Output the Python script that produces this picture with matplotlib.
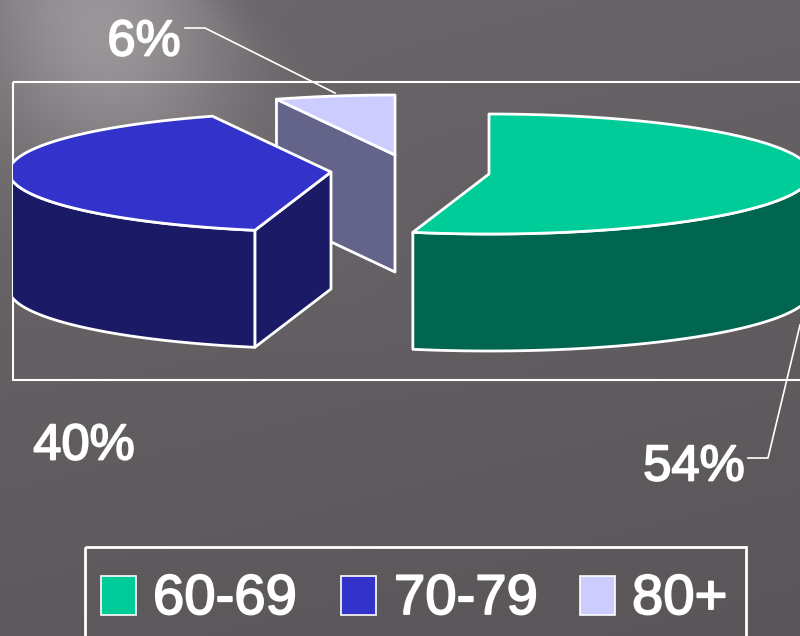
import matplotlib
matplotlib.use("Agg")
import matplotlib.pyplot as plt
import matplotlib.patheffects as pe
import numpy as np
from matplotlib.patches import Polygon, Rectangle

plt.rcParams['font.family'] = ['Liberation Sans', 'DejaVu Sans']

# data
categories = ["60-69", "70-79", "80+"]
shares = [53.8, 40.2, 6.0]
labels = ["54%", "40%", "6%"]
top_colors = ["#00cc99", "#3333cc", "#ccccff"]
side_colors = ["#006650", "#1a1a66", "#64648a"]

# layout, in pixels of the 800x636 picture
W, H = 800, 636
centres = [(489, 174), (331, 172), (395, 155)]
RX, RY = 322, 60
DEPTH = 117
label_pos = [(694, 467), (84, 446), (144, 42)]
swatch_x = [101, 341, 580]
legend_text_x = [153, 394, 632]


def background():
    yy, xx = np.mgrid[0:H, 0:W]
    base = 106 - 13 * yy / H - 4 * xx / W
    # soft light from the top left corner
    glow = 42 * np.exp(-(((xx - 105) / 130.0) ** 2 + ((yy - 35) / 150.0) ** 2))
    # diagonal edge of the light streak
    edge = (xx - yy * 0.95 - 195) / 60.0
    glow = glow * (1 - np.clip(edge, 0, 1) * 0.9)
    streak = 7 * np.exp(-(((xx - yy * 0.95 - 60) / 110.0) ** 2)) * np.clip(1 - yy / 400.0, 0, 1)
    g = base + glow + streak
    return np.dstack([g, g - 4, g - 1]).clip(0, 255).astype(np.uint8)


def rim(cx, cy, a0, a1, n=120):
    # angles clockwise from the top of the ellipse
    t = np.radians(np.linspace(a0, a1, n))
    return np.column_stack([cx + RX * np.sin(t), cy - RY * np.cos(t)])


def draw_slice(ax, i, a0, a1, clip):
    cx, cy = centres[i]
    arc = rim(cx, cy, a0, a1)
    st = arc[0]
    shift = np.array([0, DEPTH])
    z = 3 - i
    parts = []

    # the wall at the start of the slice is the only one that faces us
    if i > 0:
        parts.append((np.array([st, (cx, cy), (cx, cy + DEPTH), st + shift]), side_colors[i], z + 0.1))

    # outer wall, only the front part of the rim
    lo, hi = max(a0, 90), min(a1, 270)
    if lo < hi:
        front = rim(cx, cy, lo, hi)
        parts.append((np.vstack([front, front[::-1] + shift]), side_colors[i], z + 0.2))

    parts.append((np.vstack([[(cx, cy)], arc]), top_colors[i], z + 0.3))

    for pts, col, zo in parts:
        p = Polygon(pts, closed=True, facecolor=col, edgecolor="white", linewidth=2,
                    joinstyle="round", zorder=zo)
        ax.add_patch(p)
        p.set_clip_path(clip)


fig = plt.figure(figsize=(8, 6.36), dpi=100)
ax = fig.add_axes([0, 0, 1, 1])
ax.imshow(background(), extent=(0, W, H, 0), aspect="auto", zorder=0)
ax.set_xlim(0, W)
ax.set_ylim(H, 0)
ax.axis("off")

# plot frame
ax.add_patch(Rectangle((13, 82), 900, 298, fill=False, edgecolor="white", linewidth=1.5, zorder=1))
clip = Rectangle((13, 0), W - 13, H, transform=ax.transData)

# first wedge starts at the top and runs clockwise
start = 0
for i, s in enumerate(shares):
    end = start + s * 3.6
    draw_slice(ax, i, start, end, clip)
    start = end

# leader lines
ax.plot([185, 205, 335], [28, 28, 93], color="white", lw=1.2, zorder=6)
ax.plot([748, 768, 800], [458, 458, 325], color="white", lw=1.2, zorder=6)

stroke = [pe.withStroke(linewidth=1.3, foreground="white")]
for lab, (x, y) in zip(labels, label_pos):
    ax.text(x, y, lab, color="white", fontsize=36.5, ha="center", va="center",
            zorder=7, path_effects=stroke)

# legend
ax.add_patch(Rectangle((85, 547), 661, 120, fill=False, edgecolor="white", linewidth=2, zorder=5))
for name, col, sx, tx in zip(categories, top_colors, swatch_x, legend_text_x):
    ax.add_patch(Rectangle((sx, 576), 35, 39, facecolor=col, edgecolor="white", linewidth=1.2, zorder=6))
    ax.text(tx, 600, name, color="white", fontsize=40.5, ha="left", va="center",
            zorder=7, path_effects=stroke)

fig.savefig("out.png", dpi=100)
plt.close(fig)
